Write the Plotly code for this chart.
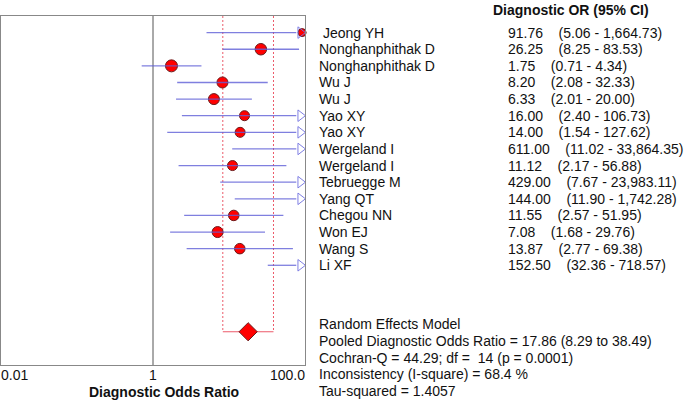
import math
import numpy as np
import plotly.graph_objects as go

# ---------------- data ----------------
studies = ["Jeong YH", "Nonghanphithak D", "Nonghanphithak D", "Wu J", "Wu J",
           "Yao XY", "Yao XY", "Wergeland I", "Wergeland I", "Tebruegge M",
           "Yang QT", "Chegou NN", "Won EJ", "Wang S", "Li XF"]
dor = [91.76, 26.25, 1.75, 8.20, 6.33, 16.00, 14.00, 611.00, 11.12, 429.00,
       144.00, 11.55, 7.08, 13.87, 152.50]
ci_lo = [5.06, 8.25, 0.71, 2.08, 2.01, 2.40, 1.54, 11.02, 2.17, 7.67,
         11.90, 2.57, 1.68, 2.77, 32.36]
ci_hi = [1664.73, 83.53, 4.34, 32.33, 20.00, 106.73, 127.62, 33864.35, 56.88,
         23983.11, 1742.28, 51.95, 29.76, 69.38, 718.57]
dor_txt = ["91.76", "26.25", "1.75", "8.20", "6.33", "16.00", "14.00", "611.00",
           "11.12", "429.00", "144.00", "11.55", "7.08", "13.87", "152.50"]
ci_txt = ["(5.06 - 1,664.73)", "(8.25 - 83.53)", "(0.71 - 4.34)", "(2.08 - 32.33)",
          "(2.01 - 20.00)", "(2.40 - 106.73)", "(1.54 - 127.62)", "(11.02 - 33,864.35)",
          "(2.17 - 56.88)", "(7.67 - 23,983.11)", "(11.90 - 1,742.28)", "(2.57 - 51.95)",
          "(1.68 - 29.76)", "(2.77 - 69.38)", "(32.36 - 718.57)"]
weights = [8, 11.5, 12, 11, 11, 10, 10, 9, 10, 9, 9, 10.5, 11, 10.5, 11]

pooled = 17.86
pooled_lo = 8.29
pooled_hi = 38.49

summary_lines = ["Random Effects Model",
                 "Pooled Diagnostic Odds Ratio = 17.86 (8.29 to 38.49)",
                 "Cochran-Q = 44.29; df =  14 (p = 0.0001)",
                 "Inconsistency (I-square) = 68.4 %",
                 "Tau-squared = 1.4057"]
tick_vals = [0.01, 1, 100]
tick_txt = ["0.01", "1", "100.0"]

AXIS_MIN, AXIS_MAX = 0.01, 100
# ---------------------------------------

FONT = "Arial, Liberation Sans, sans-serif"
FS = 14
FSB = 14
rows = np.arange(len(studies))
pooled_row = len(studies) + 3
y_top, y_bot = -1, pooled_row + 2

dor_a = np.array(dor)
lo_a = np.array(ci_lo)
hi_a = np.array(ci_hi)

arrow_x = AXIS_MAX / 10 ** 0.06
line_cap = AXIS_MAX / 10 ** 0.115

RED_LINE = "#ec5a6a"

fig = go.Figure()

# reference line at OR = 1
fig.add_trace(go.Scatter(x=[1, 1], y=[y_top, y_bot], mode="lines",
                         line=dict(color="#555555", width=1), hoverinfo="skip"))

# pooled CI bracket (dotted verticals + solid base)
fig.add_trace(go.Scatter(x=[pooled_lo, pooled_lo], y=[y_top, pooled_row], mode="lines",
                         line=dict(color=RED_LINE, width=1, dash="2px,2px"), hoverinfo="skip"))
fig.add_trace(go.Scatter(x=[pooled_hi, pooled_hi], y=[y_top, pooled_row], mode="lines",
                         line=dict(color=RED_LINE, width=1, dash="2px,2px"), hoverinfo="skip"))
fig.add_trace(go.Scatter(x=[pooled_lo, pooled_hi], y=[pooled_row, pooled_row], mode="lines",
                         line=dict(color=RED_LINE, width=1.2), hoverinfo="skip"))

# study point estimates (only inside the axis)
inside = dor_a <= AXIS_MAX
fig.add_trace(go.Scatter(x=dor_a[inside], y=rows[inside], mode="markers",
                         marker=dict(color="#ff0000", size=np.array(weights)[inside],
                                     opacity=1, line=dict(color="#6a1a1a", width=1)),
                         cliponaxis=False, hoverinfo="skip"))

# CI lines
xs, ys = [], []
for i in rows:
    a = max(lo_a[i], AXIS_MIN)
    b = hi_a[i] if hi_a[i] <= AXIS_MAX else line_cap
    xs += [a, b, None]
    ys += [i, i, None]
fig.add_trace(go.Scatter(x=xs, y=ys, mode="lines",
                         line=dict(color="rgba(95,95,215,0.8)", width=1.3),
                         hoverinfo="skip", cliponaxis=False))

# arrows for truncated upper limits
over = hi_a > AXIS_MAX
fig.add_trace(go.Scatter(x=np.full(over.sum(), arrow_x), y=rows[over], mode="markers",
                         marker=dict(symbol="triangle-right-open", size=10,
                                     color="rgba(120,120,225,0.95)", line=dict(width=1)),
                         cliponaxis=False, hoverinfo="skip"))

# pooled diamond
fig.add_trace(go.Scatter(x=[pooled], y=[pooled_row], mode="markers",
                         marker=dict(symbol="diamond", size=14, color="#ff0000", opacity=1,
                                     line=dict(color="#6a1a1a", width=1)),
                         cliponaxis=False, hoverinfo="skip"))

W, H = 685, 400
ml, mr, mt, mb = 1, 380, 16, 35
pw = W - ml - mr
ph = H - mt - mb


def px2paper(px):
    return (px - ml) / pw


def py2paper(py):
    return 1 - (py - mt) / ph


ann = []
NB = "\u00a0"
for i, s in enumerate(studies):
    xpx = 321 if i == 0 else 317
    ann.append(dict(x=px2paper(xpx), y=i, xref="paper", yref="y", text=s,
                    xanchor="left", yanchor="middle", showarrow=False,
                    font=dict(family=FONT, size=FS, color="#111")))
    ann.append(dict(x=px2paper(505.5), y=i, xref="paper", yref="y",
                    text=dor_txt[i] + NB * 4 + ci_txt[i],
                    xanchor="left", yanchor="middle", showarrow=False,
                    font=dict(family=FONT, size=FS, color="#111")))

ann.append(dict(x=px2paper(491), y=py2paper(10), xref="paper", yref="paper",
                text="<b>Diagnostic OR (95% CI)</b>", xanchor="left", yanchor="middle",
                showarrow=False, font=dict(family=FONT, size=FSB, color="#111")))

summary_py = [324, 341, 357.5, 374, 391]
for line, py in zip(summary_lines, summary_py):
    ann.append(dict(x=px2paper(317), y=py2paper(py), xref="paper", yref="paper",
                    text=line, xanchor="left", yanchor="middle", showarrow=False,
                    font=dict(family=FONT, size=FS, color="#111")))

anchors = ["left", "center", "right"]
for v, t, a in zip(tick_vals, tick_txt, anchors):
    ann.append(dict(x=math.log10(v), y=py2paper(375), xref="x", yref="paper", text=t,
                    xanchor=a, yanchor="middle", showarrow=False,
                    xshift=-2 if a == "left" else (2 if a == "right" else 0),
                    font=dict(family=FONT, size=FS, color="#111")))

ann.append(dict(x=px2paper(163.5), y=py2paper(392), xref="paper", yref="paper",
                text="<b>Diagnostic Odds Ratio</b>", xanchor="center", yanchor="middle",
                showarrow=False, font=dict(family=FONT, size=FSB, color="#111")))

fig.update_layout(
    width=W, height=H, margin=dict(l=ml, r=mr, t=mt, b=mb),
    paper_bgcolor="white", plot_bgcolor="white", showlegend=False,
    xaxis=dict(type="log", range=[math.log10(AXIS_MIN), math.log10(AXIS_MAX)],
               showgrid=False, zeroline=False, showticklabels=False, ticks="",
               showline=True, mirror=True, linecolor="#888888", linewidth=1),
    yaxis=dict(range=[y_bot, y_top], showgrid=False, zeroline=False,
               showticklabels=False, ticks="", showline=True, mirror=True,
               linecolor="#888888", linewidth=1),
    annotations=ann,
)

fig.write_html("out.html", config={"displayModeBar": False},
               post_script="document.body.style.margin='0';document.body.style.overflow='hidden';")
